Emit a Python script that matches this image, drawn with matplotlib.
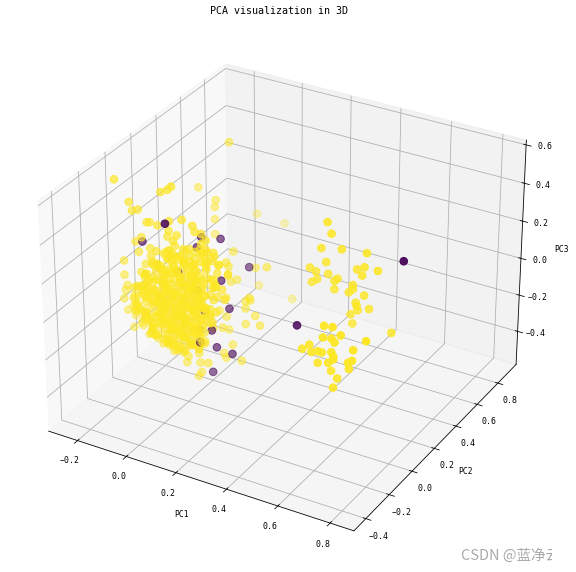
import numpy as np
import matplotlib
matplotlib.use("Agg")
import matplotlib.pyplot as plt
from matplotlib.transforms import Bbox

plt.rcParams['font.family'] = ['DejaVu Sans Mono']
plt.rcParams['axes.unicode_minus'] = True

# Left / outlying points around the main cluster
edge_pc1 = [-.06,-.28,-.114,-.085,-.069,-.167,-.094,-.098,-.098,-.098,-.248,-.236,-.211,-.175,-.163,-.13,-.081,-.028,.016,
            -.199,-.224,-.211,-.276,-.276,-.264,-.272,-.28,-.264,-.24,-.2,-.232,-.24,-.236,-.224,-.203,-.183,-.163]
edge_pc2 = [.45,-.05,0,0,0,.4,.4,.4,.4,.4,0,0,0,0,0,0,0,0,0,
            0,0,0,0,0,0,0,0,0,0,0,0,0,0,0,0,0,0]
edge_pc3 = [.60,.58,.546,.568,.59,.351,.308,.27,.205,.124,.449,.408,.422,.368,.373,.368,.407,.433,.417,
            .281,.25,.2,.13,.054,.003,-.026,-.074,-.13,-.215,-.19,-.147,-.1,-.046,.013,.096,.146,.236]

# Right flank and lower tail of the main cluster
flank_pc1 = [.03,.05,.06,.057,.044,.044,.073,.17,.012,-.07,0,.146,.15,.13,.13,.17,.19,.13,.05,.06,.02,.10,.163,.089,.098,
             .073,.045,.033,-.016,.04,-.07,-.09,-.175,-.138,.06,.093,.085,.13]
flank_pc2 = [.3,.2,.2,.2,.3,.25,.4,.3,.55,.7,.8,.2,.2,.2,.2,.2,.2,.2,.2,.2,.2,.15,.1,.1,.1,
             0,0,0,0,0,0,0,0,0,0,0,.1,.6]
flank_pc3 = [.13,.132,.114,.065,-.016,0,.005,.097,-.195,.09,.01,-.022,-.035,-.047,-.085,-.11,-.155,-.17,-.16,-.227,-.138,-.265,-.30,-.286,-.308,
             -.29,-.35,-.376,-.32,-.30,-.28,-.255,-.228,-.236,-.19,-.062,-.15,-.254]

# Dense core of the main cluster
core_pc1 = [-.1,-.05,.03,.08,
            -.15,-.1,-.04,.02,.07,.12,
            -.14,-.09,-.04,.01,.06,.1,
            -.22,-.17,-.12,-.07,-.02,.03,.08,.12,
            -.25,-.2,-.15,-.1,-.05,0,.05,.1,.14,
            -.22,-.17,-.12,-.07,-.02,.03,.08,.12,
            -.2,-.15,-.1,-.05,0,.05,.1,
            -.17,-.12,-.07,-.02,.03,.07,
            -.12,-.08,-.03,.02,
            -.06,-.02,.03,
            -.16,-.11,-.06,-.01,-.13,-.09,-.04,.01,-.14,-.1,-.05,0,-.11,-.07,-.02,.03,-.09,-.04,0,-.08,-.03]
core_pc2 = [.02,-.03,.04,-.02,
            -.02,.03,-.04,.05,.01,-.03,
            .04,-.02,.03,-.05,.02,.04,
            -.03,.05,.01,-.04,.03,-.01,.04,-.03,
            .02,-.04,.03,.05,-.02,.01,-.05,.03,.02,
            -.01,.04,-.03,.02,-.05,.03,.01,-.02,
            .03,-.02,.04,.01,-.04,.02,-.03,
            .02,-.05,.03,-.01,.04,-.02,
            .01,-.03,.02,-.04,
            .03,-.02,.01,
            -.04,.02,-.01,.03,.05,-.03,.02,-.02,-.01,.03,-.04,.02,.01,-.02,.04,-.03,.02,-.01,.03,-.04,.01]
core_pc3 = [.31,.33,.36,.375,
            .21,.227,.25,.27,.29,.31,
            .13,.15,.17,.19,.207,.22,
            .02,.039,.058,.077,.095,.114,.133,.148,
            -.073,-.054,-.035,-.016,.003,.022,.04,.06,.075,
            -.115,-.096,-.077,-.058,-.04,-.02,-.002,.013,
            -.162,-.143,-.124,-.105,-.086,-.067,-.048,
            -.204,-.185,-.166,-.148,-.129,-.114,
            -.24,-.225,-.206,-.187,
            -.272,-.257,-.238,
            .0,.02,.04,.06,-.07,-.05,-.03,-.01,-.11,-.09,-.07,-.05,-.15,-.13,-.11,-.09,-.19,-.17,-.15,-.21,-.19]

# Second pass over the dense core, read row by row
fill_pc1 = [-.1,-.04,.02,
            -.12,-.07,-.02,.03,.08,
            -.16,-.11,-.06,-.01,.04,.09,.14,
            -.2,-.15,-.1,-.05,0,.05,.1,.15,
            -.17,-.13,-.09,-.05,-.01,.03,.07,.11,
            -.23,-.19,-.15,-.11,-.07,-.03,.01,.05,.09,.13,
            -.17,-.13,-.09,-.05,-.01,.03,.07,.11,
            -.24,-.2,-.16,-.12,-.08,-.04,0,.04,.08,.12,
            -.18,-.14,-.1,-.06,-.02,.02,.06,.1,
            -.21,-.17,-.13,-.09,-.05,-.01,.03,.07,
            -.15,-.11,-.07,-.03,.01,.05,
            -.17,-.13,-.09,-.05,-.01,.03,.07,
            -.1,-.06,-.02,.02,.06,
            -.08,-.04,0,.04,
            -.04,0,.03]
fill_pc2 = [.03,-.02,.01,
            -.03,.02,-.01,.04,-.02,
            .01,-.04,.03,-.02,.05,.01,-.03,
            .02,-.01,.04,-.03,.01,-.05,.03,.02,
            -.02,.03,-.04,.01,.02,-.03,.04,-.01,
            .05,-.02,.01,-.04,.03,-.01,.02,-.03,.04,.01,
            -.03,.02,-.01,.04,-.05,.01,.03,-.02,
            .02,-.03,.04,-.01,.03,-.04,.01,.02,-.03,.05,
            -.01,.03,-.02,.04,-.04,.01,.02,-.03,
            .03,-.01,.02,-.05,.04,-.02,.01,.03,
            -.02,.04,-.03,.01,.02,-.04,
            .01,-.02,.03,-.04,.02,-.01,.05,
            -.03,.02,-.01,.04,-.02,
            .01,-.03,.02,-.01,
            .03,-.02,.01]
fill_pc3 = [.335,.358,.381,
            .252,.271,.289,.308,.327,
            .162,.18,.199,.218,.237,.256,.275,
            .07,.089,.108,.127,.146,.165,.184,.203,
            .044,.059,.074,.089,.104,.119,.134,.15,
            -.017,-.002,.013,.028,.044,.059,.074,.089,.104,.119,
            -.032,-.017,-.002,.013,.028,.043,.058,.074,
            -.096,-.081,-.065,-.05,-.035,-.02,-.005,.01,.025,.04,
            -.111,-.096,-.081,-.066,-.051,-.035,-.02,-.005,
            -.16,-.145,-.13,-.115,-.1,-.085,-.07,-.055,
            -.176,-.16,-.145,-.13,-.115,-.1,
            -.221,-.206,-.191,-.176,-.161,-.146,-.13,
            -.233,-.218,-.203,-.187,-.172,
            -.263,-.248,-.233,-.218,
            -.285,-.27,-.259]

# Third pass over the solid centre of the main cluster
solid_pc1 = [-.09,-.05,-.01,.03,
             -.12,-.08,-.04,0,.04,.08,
             -.13,-.09,-.05,-.01,.03,.07,
             -.17,-.13,-.09,-.05,-.01,.03,
             -.19,-.15,-.11,-.07,-.03,.01,.05,
             -.18,-.14,-.1,-.06,-.02,.02,.06,
             -.2,-.16,-.12,-.08,-.04,0,.04,
             -.21,-.17,-.13,-.09,-.05,-.01,.03,.07,
             -.19,-.15,-.11,-.07,-.03,.01,.05,
             -.21,-.17,-.13,-.09,-.05,-.01,.03,.06,
             -.2,-.16,-.12,-.08,-.04,0,.04,
             -.19,-.15,-.11,-.07,-.03,.01,.05,
             -.18,-.14,-.1,-.06,-.02,.02,.06,
             -.15,-.11,-.07,-.03,.01,.05,
             -.12,-.08,-.04,0,.04,
             -.1,-.06,-.02,.02,
             -.06,-.02,.02]
solid_pc2 = [.01,-.03,.02,-.01,
             .03,-.02,.01,-.04,.02,.04,
             -.01,.03,-.03,.02,-.02,.01,
             .04,-.02,.01,-.03,.03,-.01,
             .02,-.04,.01,.03,-.02,.04,-.01,
             -.03,.02,-.01,.04,-.02,.01,.03,
             .01,-.02,.03,-.04,.02,-.01,.04,
             -.02,.03,-.01,.02,-.04,.01,.03,-.02,
             .04,-.01,.02,-.03,.01,.03,-.02,
             -.04,.02,.01,-.03,.04,-.01,.02,-.02,
             .03,-.01,.02,-.04,.01,.03,-.02,
             -.01,.04,-.03,.02,.01,-.02,.03,
             .02,-.04,.01,.03,-.02,.04,-.01,
             -.03,.01,.02,-.01,.04,-.02,
             .02,-.03,.01,.03,-.01,
             .01,-.02,.04,-.03,
             .02,-.01,.03]
solid_pc3 = [.247,.262,.277,.292,
             .204,.219,.234,.249,.264,.279,
             .167,.182,.197,.212,.227,.242,
             .12,.135,.15,.165,.18,.195,
             .079,.094,.109,.125,.14,.155,.17,
             .051,.066,.081,.096,.111,.127,.142,
             .01,.026,.041,.056,.071,.086,.101,
             -.025,-.01,.005,.02,.035,.05,.065,.08,
             -.05,-.035,-.02,-.004,.011,.026,.041,
             -.09,-.075,-.06,-.045,-.03,-.015,0,.012,
             -.119,-.103,-.088,-.073,-.058,-.043,-.028,
             -.148,-.133,-.118,-.102,-.087,-.072,-.057,
             -.176,-.161,-.146,-.131,-.116,-.1,-.085,
             -.198,-.183,-.167,-.152,-.137,-.122,
             -.218,-.203,-.188,-.173,-.158,
             -.243,-.228,-.213,-.197,
             -.261,-.246,-.23]

# Fourth pass, between the rows of the third
dense_pc1 = [-.11,-.07,-.03,.01,.05,
             -.14,-.1,-.06,-.02,.02,.06,
             -.15,-.11,-.07,-.03,.01,.05,
             -.18,-.14,-.1,-.06,-.02,.02,.06,
             -.2,-.16,-.12,-.08,-.04,0,.04,
             -.21,-.17,-.13,-.09,-.05,-.01,.03,.07,
             -.2,-.16,-.12,-.08,-.04,0,.04,.08,
             -.22,-.18,-.14,-.1,-.06,-.02,.02,.06,
             -.21,-.17,-.13,-.09,-.05,-.01,.03,.07,
             -.22,-.18,-.14,-.1,-.06,-.02,.02,.06,
             -.21,-.17,-.13,-.09,-.05,-.01,.03,
             -.2,-.16,-.12,-.08,-.04,0,.04,
             -.17,-.13,-.09,-.05,-.01,.03,
             -.14,-.1,-.06,-.02,.02,
             -.11,-.07,-.03,.01,
             -.08,-.04,0,.04]
dense_pc2 = [.02,-.01,.03,-.02,.01,
             -.03,.02,.04,-.01,.01,-.02,
             .03,-.02,.01,-.04,.02,.03,
             -.01,.04,-.02,.01,.03,-.03,.02,
             .02,-.03,.04,-.01,.01,.03,-.02,
             -.02,.03,-.04,.01,.02,-.01,.04,-.03,
             .01,-.02,.03,.02,-.04,.01,-.01,.03,
             .04,-.01,.02,-.03,.01,.03,-.02,.01,
             -.03,.02,.01,-.01,.04,-.02,.03,-.04,
             .01,-.03,.04,.02,-.01,.03,-.02,.01,
             .03,-.02,.01,-.04,.02,.04,-.01,
             -.01,.03,-.02,.01,.04,-.03,.02,
             .02,-.01,.03,-.02,.01,-.04,
             -.02,.04,.01,-.03,.02,
             .03,-.01,.02,-.02,
             .01,-.03,.02,.04]
dense_pc3 = [.223,.239,.254,.269,.284,
             .179,.194,.209,.224,.24,.255,
             .143,.158,.174,.189,.204,.219,
             .1,.115,.13,.145,.16,.176,.191,
             .059,.075,.09,.105,.12,.135,.15,
             .024,.039,.054,.069,.084,.099,.114,.129,
             -.006,.01,.025,.04,.055,.07,.085,.1,
             -.045,-.03,-.015,0,.015,.03,.045,.061,
             -.074,-.059,-.044,-.029,-.014,.001,.016,.031,
             -.11,-.095,-.08,-.065,-.05,-.035,-.019,-.004,
             -.138,-.123,-.108,-.093,-.078,-.063,-.048,
             -.168,-.152,-.137,-.122,-.107,-.092,-.077,
             -.188,-.173,-.158,-.143,-.128,-.113,
             -.21,-.195,-.18,-.165,-.149,
             -.231,-.215,-.2,-.185,
             -.252,-.237,-.222,-.207]

# Upper group on the right
upper_pc1 = [.512,.528,.488,.569,.667,.508,.443,.467,.63,.659,.711,.516,.65,.472,.451,.553,.541,.541,.614,.614,.598,.659,.626,.63,.634,.679,.606,.614,.768]
upper_pc2 = [.1]*29
upper_pc3 = [.561,.508,.42,.443,.459,.355,.303,.292,.362,.384,.384,.297,.338,.254,.232,.286,.27,.227,.276,.254,.232,.238,.189,.173,.152,.176,.121,.076,.086]

# Lower group on the right
lower_pc1 = [.642,.675,.638,.671,.683,.707,.805,.585,.557,.756,.593,.618,.634,.671,.679,.679,.618,.659,.752,.736,.74,.671,.695,.679]
lower_pc2 = [-.2]*24
lower_pc3 = [.243,.249,.182,.189,.173,.219,.227,.124,.092,.162,.089,.103,.103,.119,.1,.084,.043,.059,.106,.089,.059,.022,-.008,-.062]

# Second class (dark points)
dark_pc1 = [.01,-.195,.028,.096,.113,.09,.04,.11,.175,.093,0,-.02,-.1,.08,-.02,.008,-.016,.81,.488]
dark_pc2 = [-.2,0,.2,.3,.1,0,0,0,0,0,.1,.1,.1,.1,.1,.1,.1,.1,-.1]
dark_pc3 = [.53,.26,.249,.07,-.038,-.107,-.19,-.19,-.2,-.33,.30,.24,.08,.10,.01,-.09,-.20,.47,.13]

# Calibration of the pixel readings against the tick marks
pc1_scale, pc1_shift, pc3_shift = 0.97, 0.012, -0.05

pc1 = np.array(edge_pc1 + flank_pc1 + core_pc1 + fill_pc1 + solid_pc1 + dense_pc1 + upper_pc1 + lower_pc1 + dark_pc1) * pc1_scale + pc1_shift
pc2 = np.array(edge_pc2 + flank_pc2 + core_pc2 + fill_pc2 + solid_pc2 + dense_pc2 + upper_pc2 + lower_pc2 + dark_pc2)
pc3 = np.array(edge_pc3 + flank_pc3 + core_pc3 + fill_pc3 + solid_pc3 + dense_pc3 + upper_pc3 + lower_pc3 + dark_pc3) + pc3_shift
labels = np.array([1]*(len(pc1)-len(dark_pc1)) + [0]*len(dark_pc1))

fig = plt.figure(figsize=(8, 572/72), dpi=72)
ax = fig.add_axes([0.01, 0.012, 0.95, 0.95], projection='3d')
ax.scatter(pc1, pc2, pc3, c=labels, cmap='viridis', s=58)
ax.set_xlim(-.32, .89)
ax.set_ylim(-.5, .98)
ax.set_zlim(-.585, .625)
ax.set_xticks([-.2, 0, .2, .4, .6, .8])
ax.set_yticks([-.4, -.2, 0, .2, .4, .6, .8])
ax.set_zticks([-.4, -.2, 0, .2, .4, .6])
ax.tick_params(labelsize=8.3)
ax.set_xlabel('PC1', fontsize=8)
ax.set_ylabel('PC2', fontsize=8)
ax.set_zlabel('PC3', fontsize=8)
fig.text(0.485, 0.981, 'PCA visualization in 3D', fontsize=10, ha='center', va='center')
wm = fig.text(461/576, 1-556/572, 'CSDN @蓝净云', fontsize=14.5, color='#aaaaaa', va='center', ha='left',
              family=['Noto Sans CJK SC', 'DejaVu Sans'])
wm.set_clip_box(Bbox([[0, 0], [552, 572]]))
wm.set_clip_on(True)
fig.savefig('out.png', dpi=72)
